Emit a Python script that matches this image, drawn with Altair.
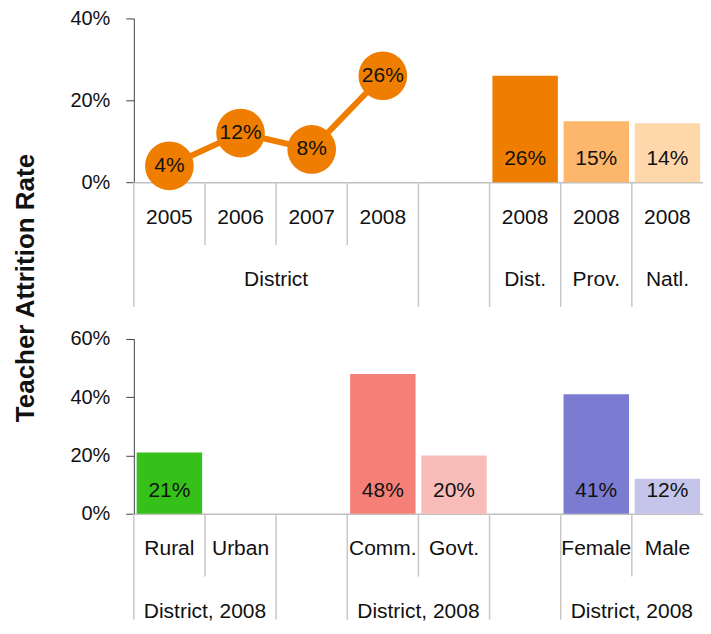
import altair as alt
import pandas as pd

FONT = "Liberation Sans"

# ---------------- data ----------------
top_keys = ["2005", "2006", "2007", "2008", "|gap", "2008|Dist.", "2008|Prov.", "2008|Natl."]
line_keys = ["2005", "2006", "2007", "2008"]
line_vals = [0.04, 0.12, 0.08, 0.26]
top_bar_keys = ["2008|Dist.", "2008|Prov.", "2008|Natl."]
top_bar_vals = [0.26, 0.149, 0.144]
top_bar_colors = ["#EF7E00", "#FDB76C", "#FED7AA"]
top_groups = ["District"]
top_group_anchor_mid = ["2007"]          # label centred on the start of this band
top_groups_single = ["Dist.", "Prov.", "Natl."]
top_group_single_keys = ["2008|Dist.", "2008|Prov.", "2008|Natl."]
top_short_seps = ["2006", "2007", "2008"]
top_long_seps = ["2005", "|gap", "2008|Dist.", "2008|Prov.", "2008|Natl."]

bot_keys = ["Rural", "Urban", "|gap1", "Comm.", "Govt.", "|gap2", "Female", "Male"]
bot_bar_keys = ["Rural", "Comm.", "Govt.", "Female", "Male"]
bot_bar_vals = [0.21, 0.48, 0.20, 0.41, 0.12]
bot_bar_colors = ["#36C11A", "#F48077", "#F9BDB9", "#7B7BD2", "#C5C5EC"]
bot_groups = ["District, 2008", "District, 2008", "District, 2008"]
bot_group_anchor = ["Urban", "Govt.", "Male"]
bot_short_seps = ["Urban", "Govt.", "Male"]
bot_long_seps = ["Rural", "|gap1", "Comm.", "|gap2", "Female"]

W = 570
H_TOP = 164
H_BOT = 175
SEP_COLOR = "#C8C8C8"
TXT = "#111111"
FS = 21


def yaxis(values):
    return alt.Axis(values=values, format=".0%", title=None, grid=False,
                    domainColor="#404040", tickColor="#404040", tickSize=8,
                    labelFont=FONT, labelFontSize=20, labelColor=TXT, labelPadding=16)


def xscale(keys):
    return alt.Scale(domain=keys, paddingInner=0, paddingOuter=0)


def xaxis():
    return alt.Axis(title=None, ticks=False, tickSize=0, domainColor="#C0C0C0", domainWidth=1.5,
                    labelExpr="split(datum.label, '|')[0]", labelFont=FONT, labelFontSize=FS,
                    labelColor=TXT, labelBaseline="middle", labelAlign="center", labelAngle=0,
                    labelPadding=35, labelOverlap=False, labelBound=False, labelFlush=False)


def panel(keys, h, yvals, ydom, bar_keys, bar_vals, bar_colors, short_seps, long_seps, long_len):
    X = lambda **kw: alt.X("key:N", scale=xscale(keys), axis=xaxis(), **kw)
    short = alt.Chart(pd.DataFrame({"key": short_seps})).mark_rule(
        color=SEP_COLOR, strokeWidth=1.5).encode(
        x=X(bandPosition=0), y=alt.value(h), y2=alt.value(h + 63))
    long = alt.Chart(pd.DataFrame({"key": long_seps})).mark_rule(
        color=SEP_COLOR, strokeWidth=1.5).encode(
        x=X(bandPosition=0), y=alt.value(h), y2=alt.value(h + long_len))
    bdf = pd.DataFrame({"key": bar_keys, "value": bar_vals})
    bars = alt.Chart(bdf).mark_bar(width={"band": 0.92}).encode(
        x=X(),
        y=alt.Y("value:Q", scale=alt.Scale(domain=ydom, nice=False), axis=yaxis(yvals)),
        color=alt.Color("key:N", scale=alt.Scale(domain=bar_keys, range=bar_colors), legend=None),
    )
    blabels = alt.Chart(bdf).mark_text(font=FONT, fontSize=FS, color=TXT, dy=-23,
                                       baseline="middle").encode(
        x=X(), y=alt.datum(0), text=alt.Text("value:Q", format=".0%"))
    return [short, long, bars, blabels], X


# ---------------- top panel ----------------
top_layers, XT = panel(top_keys, H_TOP, [0, 0.2, 0.4], [0, 0.4], top_bar_keys, top_bar_vals,
                       top_bar_colors, top_short_seps, top_long_seps, 125)
ldf = pd.DataFrame({"key": line_keys, "value": line_vals})
line = alt.Chart(ldf).mark_line(color="#EF7E00", strokeWidth=6).encode(x=XT(), y="value:Q")
dots = alt.Chart(ldf).mark_circle(color="#EF7E00", size=2376, opacity=1).encode(x=XT(), y="value:Q")
dot_text = alt.Chart(ldf).mark_text(font=FONT, fontSize=FS, color=TXT, baseline="middle").encode(
    x=XT(), y="value:Q", text=alt.Text("value:Q", format=".0%"))
g1 = alt.Chart(pd.DataFrame({"key": top_group_anchor_mid, "label": top_groups})).mark_text(
    font=FONT, fontSize=FS, color=TXT, baseline="middle").encode(
    x=XT(bandPosition=0), y=alt.value(H_TOP + 98), text="label:N")
g2 = alt.Chart(pd.DataFrame({"key": top_group_single_keys, "label": top_groups_single})).mark_text(
    font=FONT, fontSize=FS, color=TXT, baseline="middle").encode(
    x=XT(bandPosition=0.5), y=alt.value(H_TOP + 98), text="label:N")
ytitle = alt.Chart(pd.DataFrame({"t": ["Teacher Attrition Rate"]})).mark_text(
    font=FONT, fontSize=26, fontWeight="bold", color=TXT, angle=270, baseline="middle",
    align="center").encode(x=alt.value(-108), y=alt.value(270), text="t:N")

top = alt.layer(*top_layers, line, dots, dot_text, g1, g2, ytitle).properties(width=W, height=H_TOP)

# ---------------- bottom panel ----------------
bot_layers, XB = panel(bot_keys, H_BOT, [0, 0.2, 0.4, 0.6], [0, 0.6], bot_bar_keys, bot_bar_vals,
                       bot_bar_colors, bot_short_seps, bot_long_seps, 106)
g3 = alt.Chart(pd.DataFrame({"key": bot_group_anchor, "label": bot_groups})).mark_text(
    font=FONT, fontSize=FS, color=TXT, baseline="middle").encode(
    x=XB(bandPosition=0), y=alt.value(H_BOT + 98), text="label:N")
bot = alt.layer(*bot_layers, g3).properties(width=W, height=H_BOT)

chart = alt.vconcat(top, bot, spacing=157, bounds="flush").resolve_scale(
    x="independent", y="independent", color="independent"
).properties(padding={"left": 5, "top": 0, "right": 0, "bottom": 0}).configure_view(stroke=None)

chart.save("out.html", embed_options={"renderer": "svg", "actions": False})
